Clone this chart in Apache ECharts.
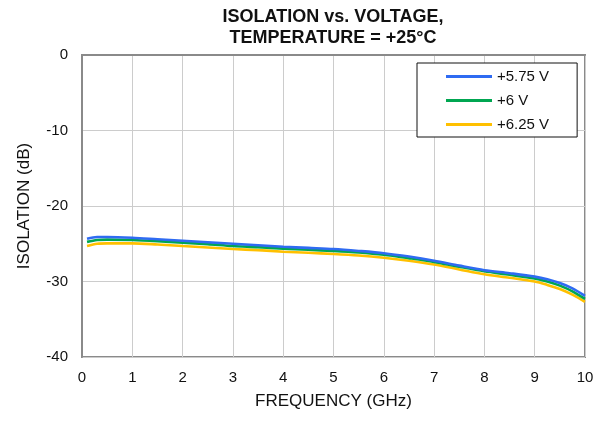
<!DOCTYPE html>
<html>
<head>
<meta charset="utf-8">
<script src="https://cdn.jsdelivr.net/npm/echarts@6/dist/echarts.min.js"></script>
<style>
html,body{margin:0;padding:0;background:#fff;}
#c{width:602px;height:425px;}
</style>
</head>
<body>
<div id="c"></div>
<script>
var freq = [0.1, 0.3, 0.5, 1, 1.5, 2, 2.5, 3, 3.5, 4, 4.5, 5, 5.5, 6, 6.5, 7, 7.5, 8, 8.5, 9, 9.25, 9.5, 9.75, 10];
var v575 = [-24.35, -24.1, -24.1, -24.2, -24.4, -24.6, -24.8, -25.0, -25.2, -25.4, -25.55, -25.7, -25.95, -26.25, -26.7, -27.25, -27.9, -28.5, -28.9, -29.35, -29.7, -30.2, -30.9, -31.9];
var v6 = [-24.75, -24.5, -24.45, -24.5, -24.65, -24.85, -25.05, -25.3, -25.45, -25.65, -25.8, -25.95, -26.15, -26.45, -26.9, -27.4, -28.05, -28.65, -29.1, -29.6, -30.0, -30.55, -31.3, -32.3];
var v625 = [-25.3, -25.0, -24.95, -24.95, -25.1, -25.3, -25.5, -25.7, -25.85, -26.05, -26.2, -26.35, -26.55, -26.85, -27.25, -27.75, -28.4, -29.05, -29.5, -30.0, -30.45, -31.0, -31.75, -32.7];
var seriesNames = ['+5.75 V', '+6 V', '+6.25 V'];
var titleText = 'ISOLATION vs. VOLTAGE,\nTEMPERATURE = +25°C';
var xName = 'FREQUENCY (GHz)';
var yName = 'ISOLATION (dB)';

function pairs(xs, ys) { return xs.map(function (x, i) { return [x, ys[i]]; }); }

var font = 'Arial, "Liberation Sans", sans-serif';
var chart = echarts.init(document.getElementById('c'), null, {renderer: 'canvas'});
chart.setOption({
  backgroundColor: '#fff',
  animation: false,
  title: {
    text: titleText,
    left: 333, top: 7, padding: 0, textAlign: 'center',
    textStyle: {fontFamily: font, fontSize: 18, fontWeight: 'bold', color: '#111', lineHeight: 21}
  },
  legend: {
    orient: 'vertical', left: 417, top: 63,
    padding: [6, 28, 5, 29], itemGap: 9, itemWidth: 46, itemHeight: 3, icon: 'rect',
    borderColor: '#111', borderWidth: 1, backgroundColor: '#fff',
    textStyle: {fontFamily: font, fontSize: 15, color: '#111'},
    data: seriesNames
  },
  grid: {left: 82, right: 17, top: 55, bottom: 68, show: true, borderColor: '#8a8a8a', borderWidth: 2, backgroundColor: 'transparent'},
  xAxis: {
    type: 'value', min: 0, max: 10, interval: 1,
    name: xName, nameLocation: 'middle', nameGap: 36,
    nameTextStyle: {fontFamily: font, fontSize: 17, color: '#111'},
    axisLine: {show: true, lineStyle: {color: '#8a8a8a', width: 2}},
    axisTick: {show: false},
    axisLabel: {fontFamily: font, fontSize: 15, color: '#111', margin: 13},
    splitLine: {show: true, lineStyle: {color: '#cccccc', width: 1}}
  },
  yAxis: {
    type: 'value', min: -40, max: 0, interval: 10,
    name: yName, nameLocation: 'middle', nameGap: 49,
    nameTextStyle: {fontFamily: font, fontSize: 17, color: '#111'},
    axisLine: {show: true, lineStyle: {color: '#8a8a8a', width: 2}},
    axisTick: {show: false},
    axisLabel: {fontFamily: font, fontSize: 15, color: '#111', margin: 14},
    splitLine: {show: true, lineStyle: {color: '#cccccc', width: 1}}
  },
  series: [
    {name: seriesNames[0], type: 'line', data: pairs(freq, v575), smooth: 0.3, showSymbol: false, lineStyle: {width: 2.6, color: '#2f6bf2'}, itemStyle: {color: '#2f6bf2'}, z: 4},
    {name: seriesNames[1], type: 'line', data: pairs(freq, v6), smooth: 0.3, showSymbol: false, lineStyle: {width: 2.6, color: '#00a651'}, itemStyle: {color: '#00a651'}, z: 3},
    {name: seriesNames[2], type: 'line', data: pairs(freq, v625), smooth: 0.3, showSymbol: false, lineStyle: {width: 2.6, color: '#ffc000'}, itemStyle: {color: '#ffc000'}, z: 2}
  ]
});
</script>
</body>
</html>
